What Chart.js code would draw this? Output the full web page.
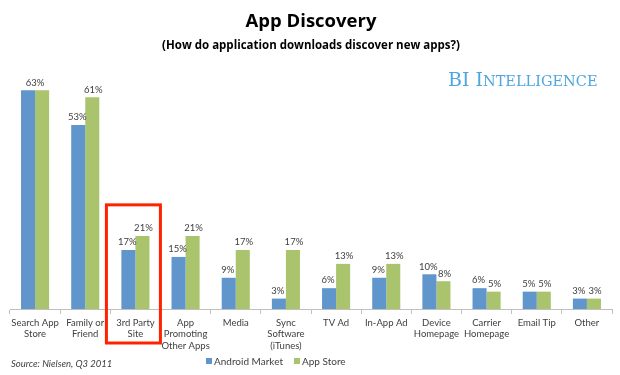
<!DOCTYPE html>
<html>
<head>
<meta charset="utf-8">
<script src="https://cdn.jsdelivr.net/npm/chart.js@4"></script>
<style>
  html, body { margin: 0; padding: 0; background: #fff; }
  #wrap { width: 620px; height: 375px; }
</style>
</head>
<body>
<div id="wrap"><canvas id="chart"></canvas></div>
<script>
var categories = [
  ['Search App', 'Store'], ['Family or', 'Friend'], ['3rd Party', 'Site'],
  ['App', 'Promoting', 'Other Apps'], 'Media', ['Sync', 'Software', '(iTunes)'],
  'TV Ad', 'In-App Ad', ['Device', 'Homepage'], ['Carrier', 'Homepage'], 'Email Tip', 'Other'
];
var android_market = [63, 53, 17, 15, 9, 3, 6, 9, 10, 6, 5, 3];
var app_store = [63, 61, 21, 21, 17, 17, 13, 13, 8, 5, 5, 3];
var series_names = ['Android Market', 'App Store'];
var highlight_index = 2;

var labelColor = '#404040';

// value labels, titles, source, brand, legend and the red box
const extras = {
  id: 'extras',
  afterDatasetsDraw(chart) {
    const ctx = chart.ctx;
    ctx.save();
    ctx.font = '9.5px Lato';
    ctx.fillStyle = labelColor;
    ctx.textAlign = 'center';
    ctx.textBaseline = 'bottom';
    const m0 = chart.getDatasetMeta(0).data, m1 = chart.getDatasetMeta(1).data;
    for (let i = 0; i < m0.length; i++) {
      const a = m0[i], b = m1[i];
      const ta = android_market[i] + '%', tb = app_store[i] + '%';
      const wa = ctx.measureText(ta).width, wb = ctx.measureText(tb).width;
      if (a.y === b.y && a.x + wa / 2 > b.x - wb / 2) {
        ctx.fillText(ta, (a.x + b.x) / 2, a.y - 3);
      } else {
        ctx.fillText(ta, a.x - 1, a.y - 3);
        ctx.fillText(tb, b.x + 1, b.y - 3);
      }
    }
    ctx.restore();
  },
  afterDraw(chart) {
    const ctx = chart.ctx;
    const x = chart.scales.x, y = chart.scales.y;
    const area = chart.chartArea;
    ctx.save();
    // titles
    ctx.fillStyle = '#000';
    ctx.textAlign = 'center';
    ctx.textBaseline = 'middle';
    ctx.font = 'bold 18.5px "Open Sans"';
    ctx.fillText('App Discovery', 311, 22);
    ctx.font = 'bold 11.5px "Open Sans"';
    ctx.fillText('(How do application downloads discover new apps?)', 311, 46);

    // brand
    ctx.fillStyle = '#4ea5df';
    ctx.textAlign = 'left';
    ctx.textBaseline = 'alphabetic';
    let bx = 448;
    const parts = [['BI ', 19], ['I', 19], ['NTELLIGENCE', 14.5]];
    parts.forEach(function (p) {
      ctx.font = p[1] + 'px "DejaVu Serif"';
      ctx.fillText(p[0], bx, 86);
      bx += ctx.measureText(p[0]).width;
    });

    // source
    ctx.fillStyle = labelColor;
    ctx.font = 'italic 9.5px Lato';
    ctx.textBaseline = 'middle';
    ctx.fillText('Source: Nielsen, Q3 2011', 11, 364);

    // legend
    ctx.font = '10px Lato';
    let lx = 206;
    chart.data.datasets.forEach(function (ds) {
      ctx.fillStyle = ds.backgroundColor;
      ctx.fillRect(lx, 358, 6, 6);
      ctx.fillStyle = labelColor;
      ctx.fillText(ds.label, lx + 8, 362);
      lx += 8 + ctx.measureText(ds.label).width + 11;
    });

    // highlight box
    const cx = x.getPixelForValue(highlight_index);
    ctx.strokeStyle = '#ff2200';
    ctx.lineWidth = 3;
    ctx.strokeRect(cx - 29, y.getPixelForValue(30), 54, area.bottom + 34 - y.getPixelForValue(30));
    ctx.restore();
  }
};

new Chart(document.getElementById('chart'), {
  type: 'bar',
  data: {
    labels: categories,
    datasets: [
      { label: series_names[0], data: android_market, backgroundColor: '#6096cc' },
      { label: series_names[1], data: app_store, backgroundColor: '#a9c46c' }
    ]
  },
  options: {
    responsive: true,
    maintainAspectRatio: false,
    animation: false,
    layout: { padding: { top: 66, bottom: 6, left: 10, right: 8 } },
    datasets: { bar: { categoryPercentage: 0.56, barPercentage: 1 } },
    scales: {
      x: {
        grid: { drawOnChartArea: false, tickLength: 5, color: '#bfbfbf' },
        border: { color: '#bfbfbf' },
        ticks: {
          color: labelColor, font: { family: 'Lato', size: 9.5 }, padding: 3,
          maxRotation: 0, autoSkip: false
        },
        afterFit(scale) { scale.height = 60; }
      },
      y: { display: false, min: 0, max: 70 }
    },
    plugins: {
      legend: { display: false },
      tooltip: { enabled: false }
    }
  },
  plugins: [extras]
});
</script>
</body>
</html>
